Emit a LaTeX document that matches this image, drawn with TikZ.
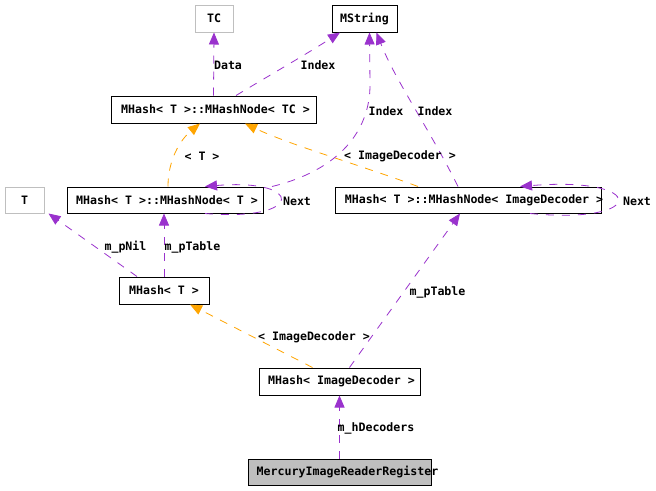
\documentclass[tikz,border=0pt]{standalone}
\usepackage{fontspec}
\setmonofont{DejaVu Sans Mono}
\usetikzlibrary{arrows.meta}
\definecolor{edgepurple}{HTML}{9A32CD}
\definecolor{tmplorange}{HTML}{FFA500}
\definecolor{greyb}{HTML}{BFBFBF}
\begin{document}
\begin{tikzpicture}[x=1pt,y=-1pt,
  every node/.style={font=\ttfamily\bfseries\fontsize{11.6}{12}\selectfont},
  box/.style={draw=black, line width=1pt, inner sep=0pt, minimum height=27pt},
  greybox/.style={box, draw=greyb},
  lbl/.style={inner sep=0pt},
  usage/.style={draw=edgepurple, line width=0.8pt, dash pattern=on 8pt off 8pt,
    -{Triangle[length=12pt,width=10pt,fill=edgepurple]}},
  tmpl/.style={draw=tmplorange, line width=0.8pt, dash pattern=on 8pt off 8pt,
    -{Triangle[length=12pt,width=10pt,fill=tmplorange]}}]
\useasboundingbox (0,0) rectangle (656,490);
\fill[white] (0,0) rectangle (656,490);

% nodes
\node[greybox, minimum width=38pt] (TC) at (214,18.5) {TC};
\node[box, minimum width=65pt] (MString) at (364.5,18.5) {MString};
\node[box, minimum width=205pt] (hashTC) at (213.5,109.5) {\hspace*{4pt}MHash< T >::MHashNode< TC >};
\node[greybox, minimum width=39pt, minimum height=26pt] (T) at (24.5,200) {T};
\node[box, minimum width=196pt, minimum height=26pt] (hashT) at (165,200) {\hspace*{4pt}MHash< T >::MHashNode< T >};
\node[box, minimum width=266pt, minimum height=26pt,
  label={[lbl, xshift=6pt]center:MHash< T >::MHashNode< ImageDecoder >}] (hashID) at (468,200) {};
\node[box, minimum width=90pt] (hashTmpl) at (164,290.5) {MHash< T >};
\node[box, minimum width=161pt] (hashImg) at (339.5,381.5) {\hspace*{4pt}MHash< ImageDecoder >};
\node[box, fill=greyb, minimum width=183pt, minimum height=26pt,
  label={[lbl, xshift=8pt]center:MercuryImageReaderRegister}] (mercury) at (339.5,472) {};

% edges
\draw[usage] (hashTC.north) -- (TC.south);
\draw[usage] ([xshift=22.5pt]hashTC.north) .. controls (270,75) and (305,55) .. ([xshift=-24.5pt]MString.south);
\draw[tmpl] ([xshift=3pt]hashT.north) .. controls (168,160) and (180,140) .. ([xshift=-13.5pt]hashTC.south);
\draw[tmpl] ([xshift=-50pt]hashID.north) .. controls (360,165) and (290,145) .. ([xshift=31.5pt]hashTC.south);
\draw[usage] ([xshift=107pt]hashT.north) .. controls (340,170) and (370,130) .. (370,85) -- ([xshift=5pt]MString.south);
\draw[usage] ([xshift=-10pt]hashID.north) .. controls (430,130) and (395,80) .. ([xshift=12pt]MString.south);
\draw[usage] ([xshift=40pt]hashT.south) .. controls (305,222) and (305,178) .. ([xshift=40pt]hashT.north);
\draw[usage] ([xshift=62pt]hashID.south) .. controls (648,225) and (648,176) .. ([xshift=52pt]hashID.north);
\draw[usage] ([xshift=-27pt]hashTmpl.north) -- ([xshift=4pt]T.south east);
\draw[usage] (hashTmpl.north) -- ([xshift=-1pt]hashT.south);
\draw[usage] ([xshift=10pt]hashImg.north) -- ([xshift=-8pt]hashID.south);
\draw[tmpl] ([xshift=-27pt]hashImg.north) -- ([xshift=26pt]hashTmpl.south);
\draw[usage] (mercury.north) -- (hashImg.south);

% labels
\node[lbl] (lData) at (228,65) {Data};
\node[lbl] (lIdx1) at (318,65) {Index};
\node[lbl] (lT) at (202,156) {< T >};
\node[lbl] (lIdx2) at (386,111) {Index};
\node[lbl] (lIdx3) at (435,111) {Index};
\node[lbl] (lID1) at (400,156) {< ImageDecoder >};
\node[lbl] (lNext1) at (297,201) {Next};
\node[lbl] (lNext2) at (637,201) {Next};
\node[lbl] (lNil) at (125.5,247) {m\_pNil};
\node[lbl] (lTab1) at (192.5,247) {m\_pTable};
\node[lbl] (lTab2) at (437.5,292) {m\_pTable};
\node[lbl] (lID2) at (314,337) {< ImageDecoder >};
\node[lbl] (lDec) at (376,428) {m\_hDecoders};
\end{tikzpicture}
\end{document}
